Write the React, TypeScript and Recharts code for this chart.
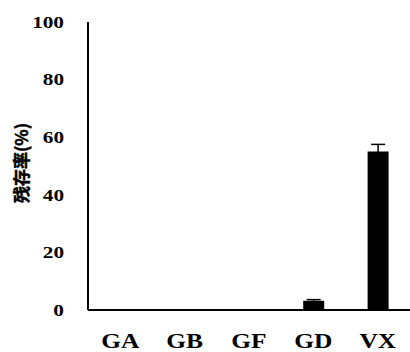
import { BarChart, Bar, XAxis, YAxis, ErrorBar } from 'recharts';

// categories and survival rate (%)
const agents = ['GA', 'GB', 'GF', 'GD', 'VX'];
const survival = [0, 0, 0, 3.2, 55];
const survivalErr = [0, 0, 0, 0.4, 2.5];
const yTicks = [0, 20, 40, 60, 80, 100];

const data = agents.map((name, i) => ({ name, rate: survival[i], err: survivalErr[i] }));

const serif = '"Liberation Serif", "Times New Roman", serif';

const YTick = ({ x, y, payload }: any) => (
  <text
    transform={`translate(${x - 16},${y}) scale(1.25,1)`}
    textAnchor="end"
    dominantBaseline="central"
    style={{ fontFamily: serif, fontWeight: 'bold', fontSize: 17, fill: '#000' }}
  >
    {payload.value}
  </text>
);

const XTick = ({ x, y, payload }: any) => (
  <text
    transform={`translate(${x},${y + 30}) scale(1.27,1)`}
    textAnchor="middle"
    style={{ fontFamily: serif, fontWeight: 'bold', fontSize: 20, fill: '#000' }}
  >
    {payload.value}
  </text>
);

export default function App() {
  return (
    <div style={{ position: 'absolute', left: 0, top: 0, background: '#fff' }}>
      <BarChart width={410} height={352} data={data} margin={{ top: 22, right: 0, bottom: 0, left: 0 }}>
        <XAxis
          dataKey="name"
          height={42}
          tickLine={false}
          axisLine={{ stroke: '#000', strokeWidth: 2 }}
          tick={<XTick />}
          interval={0}
        />
        <YAxis
          width={88}
          domain={[0, 100]}
          ticks={yTicks}
          tickLine={false}
          axisLine={{ stroke: '#000', strokeWidth: 2 }}
          tick={<YTick />}
          label={{
            value: '残存率(%)',
            angle: -90,
            position: 'center',
            dx: -22,
            dy: -3,
            style: {
              fontFamily: '"Noto Sans CJK SC", sans-serif',
              fontWeight: 'bold',
              fontSize: 17,
              fill: '#000',
              stroke: '#000',
              strokeWidth: 0.5,
            },
          }}
        />
        <Bar dataKey="rate" fill="#000" barSize={21} isAnimationActive={false}>
          <ErrorBar dataKey="err" width={7} stroke="#000" strokeWidth={1.5} direction="y" />
        </Bar>
      </BarChart>
    </div>
  );
}
